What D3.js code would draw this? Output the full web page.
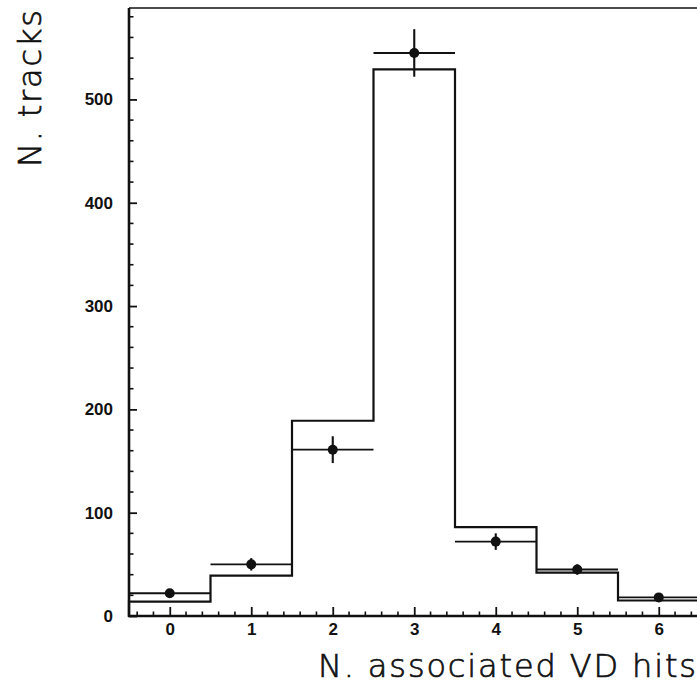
<!DOCTYPE html>
<html>
<head>
<meta charset="utf-8">
<script src="https://cdn.jsdelivr.net/npm/d3@7"></script>
<style>
  html, body { margin: 0; padding: 0; background: #fff; }
  svg { display: block; }
</style>
</head>
<body>
<svg id="chart" width="697" height="684"></svg>
<script>
// Number of vertex-detector hits associated to a track
const bins = [0, 1, 2, 3, 4, 5, 6];
// Simulation (histogram)
const mcCounts = [14, 39, 189, 529, 86, 42, 15];
// Measured tracks (points) and their statistical errors
const dataCounts = [22, 50, 161, 545, 72, 45, 18];
const dataErrors = [4, 6, 13, 23, 8, 5, 3];
// Axis tick labels
const xTickValues = [0, 1, 2, 3, 4, 5, 6];
const yTickValues = [0, 100, 200, 300, 400, 500];

const svg = d3.select("#chart");
const ink = "#111";
const titleFont = "'DejaVu Sans', sans-serif";

const x = d3.scaleLinear().domain([-0.5, 6.5]).range([129, 699.5]);
const y = d3.scaleLinear().domain([0, 588.5]).range([616, 8]);

// Frame: top line
svg.append("line")
  .attr("x1", x(-0.5)).attr("x2", 697)
  .attr("y1", y(588.5)).attr("y2", y(588.5))
  .attr("stroke", ink).attr("stroke-width", 1.6);

// Minor ticks
const xMinor = d3.range(-0.4, 6.5, 0.2).filter(v => Math.abs(v - Math.round(v)) > 0.05);
const yMinor = d3.range(20, 588, 20).filter(v => v % 100 !== 0);

// Bottom axis (ticks point inward)
const xAxis = d3.axisBottom(x)
  .tickValues(xTickValues)
  .tickFormat(d3.format("d"))
  .tickSize(-9)
  .tickPadding(7);
const gx = svg.append("g").attr("transform", `translate(0,${y(0)})`).call(xAxis);
gx.select(".domain").remove();
gx.selectAll(".tick line").attr("stroke", ink).attr("stroke-width", 1.8);
gx.selectAll(".tick text")
  .attr("fill", ink)
  .style("font-family", "'Liberation Sans', Arial, sans-serif")
  .style("font-weight", "bold")
  .style("font-size", "17px");
gx.selectAll(".minor").data(xMinor).enter().append("line")
  .attr("x1", d => x(d)).attr("x2", d => x(d))
  .attr("y1", 0).attr("y2", -4.5)
  .attr("stroke", ink).attr("stroke-width", 1.6);
gx.append("line")
  .attr("x1", x(-0.5) - 1).attr("x2", 697)
  .attr("y1", 0).attr("y2", 0)
  .attr("stroke", ink).attr("stroke-width", 2.4);

// Left axis (ticks point inward)
const yAxis = d3.axisLeft(y)
  .tickValues(yTickValues)
  .tickFormat(d3.format("d"))
  .tickSize(-8)
  .tickPadding(16);
const gy = svg.append("g").attr("transform", `translate(${x(-0.5)},0)`).call(yAxis);
gy.select(".domain").remove();
gy.selectAll(".tick line").attr("stroke", ink).attr("stroke-width", 1.8);
gy.selectAll(".tick text")
  .attr("fill", ink)
  .style("font-family", "'Liberation Sans', Arial, sans-serif")
  .style("font-weight", "bold")
  .style("font-size", "17px");
gy.selectAll(".minor").data(yMinor).enter().append("line")
  .attr("x1", 0).attr("x2", 4.5)
  .attr("y1", d => y(d)).attr("y2", d => y(d))
  .attr("stroke", ink).attr("stroke-width", 1.6);
gy.append("line")
  .attr("x1", 0).attr("x2", 0)
  .attr("y1", y(588.5)).attr("y2", y(0) + 1)
  .attr("stroke", ink).attr("stroke-width", 2.6);

// Simulated distribution as a step histogram
const stepPts = [[x(-0.5), y(0)]];
bins.forEach((b, i) => {
  stepPts.push([x(b - 0.5), y(mcCounts[i])]);
  stepPts.push([x(b + 0.5), y(mcCounts[i])]);
});
stepPts.push([x(6.5), y(0)]);
svg.append("path")
  .attr("d", d3.line()(stepPts))
  .attr("fill", "none")
  .attr("stroke", ink)
  .attr("stroke-width", 2.2)
  .attr("stroke-linejoin", "miter");

// Measured points with error bars
const pts = svg.append("g").selectAll("g").data(bins).enter().append("g");
pts.append("line")
  .attr("x1", d => x(d - 0.5)).attr("x2", d => x(d + 0.5))
  .attr("y1", (d, i) => y(dataCounts[i])).attr("y2", (d, i) => y(dataCounts[i]))
  .attr("stroke", ink).attr("stroke-width", 1.9);
pts.append("line")
  .attr("x1", d => x(d)).attr("x2", d => x(d))
  .attr("y1", (d, i) => y(dataCounts[i] + dataErrors[i]))
  .attr("y2", (d, i) => y(dataCounts[i] - dataErrors[i]))
  .attr("stroke", ink).attr("stroke-width", 2.1);
pts.append("circle")
  .attr("cx", d => x(d))
  .attr("cy", (d, i) => y(dataCounts[i]))
  .attr("r", 5)
  .attr("fill", ink);

// Axis titles (thin glyphs, slightly thickened with an outline)
function title(sel) {
  sel.style("font-family", titleFont)
    .style("font-weight", "200")
    .style("font-size", "32px")
    .attr("fill", ink)
    .attr("stroke", ink)
    .attr("stroke-width", 0.7)
    .attr("lengthAdjust", "spacing");
}

svg.append("text")
  .attr("x", 696).attr("y", 677)
  .attr("text-anchor", "end")
  .attr("textLength", 378)
  .call(title)
  .text("N. associated VD hits");

svg.append("text")
  .attr("transform", "translate(41,167) rotate(-90)")
  .attr("text-anchor", "start")
  .attr("textLength", 157)
  .call(title)
  .text("N. tracks");
</script>
</body>
</html>
